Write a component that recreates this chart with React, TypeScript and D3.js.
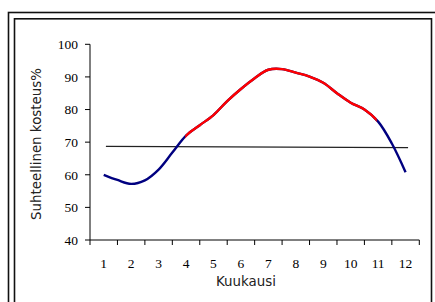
import React from "react";
import * as d3 from "d3";

// chart values
const monthLabels = ["1", "2", "3", "4", "5", "6", "7", "8", "9", "10", "11", "12"];
const monthPos = [1, 1.5, 2, 2.5, 3, 3.5, 4, 4.5, 5, 5.5, 6, 6.5, 7, 7.5, 8, 8.5, 9, 9.5, 10, 10.5, 11, 11.5, 12];
const humidity = [60.0, 58.4, 57.2, 58.3, 61.6, 66.8, 72.0, 75.2, 78.3, 82.6, 86.3, 89.6, 92.2, 92.4, 91.3, 90.1, 88.2, 85.0, 82.1, 80.0, 76.3, 69.6, 60.8];
const redRange = [3.97, 10.95]; // months drawn in red
const trendPos = [1.08, 12.09];
const trendValues = [68.7, 68.3];
const yTicks = [40, 50, 60, 70, 80, 90, 100];

const W = 435;
const H = 302;
const left = 90;
const right = 419.3;
const top = 44.3;
const bottom = 240;

export default function App() {
  const x = d3.scaleLinear().domain([0.5, 12.5]).range([left, right]);
  const xBand = d3.scaleBand().domain(monthLabels).range([left, right]).padding(0);
  const y = d3.scaleLinear().domain([40, 100]).range([bottom, top]);

  const pts: [number, number][] = monthPos.map((m, i) => [m, humidity[i]]);
  const line = d3
    .line<[number, number]>()
    .x((d) => x(d[0]))
    .y((d) => y(d[1]))
    .curve(d3.curveCatmullRom.alpha(0.5));
  const path = line(pts) || "";

  const trend = d3
    .line<number>()
    .x((d) => x(d))
    .y((d, i) => y(trendValues[i]));

  const boundaries = [left, ...monthLabels.map((m) => (xBand(m) || 0) + xBand.bandwidth())];

  const serif = "'Liberation Serif', 'Times New Roman', serif";
  const sans = "'DejaVu Sans', Verdana, sans-serif";

  return (
    <svg
      width={W}
      height={H}
      style={{ position: "absolute", left: 0, top: 0, background: "#fff" }}
    >
      <defs>
        <clipPath id="redClip">
          <rect x={x(redRange[0])} y={0} width={x(redRange[1]) - x(redRange[0])} height={H} />
        </clipPath>
      </defs>

      {/* double frame */}
      <rect x={8.5} y={12.5} width={428} height={300} fill="none" stroke="#111" strokeWidth={1.6} />
      <rect x={14.5} y={18.8} width={417} height={300} fill="none" stroke="#111" strokeWidth={1.6} />

      {/* y axis */}
      <line x1={left} x2={left} y1={top} y2={bottom} stroke="#000" />
      {yTicks.map((t) => (
        <g key={t}>
          <line x1={left - 5} x2={left} y1={y(t)} y2={y(t)} stroke="#000" />
          <text
            x={left - 12}
            y={y(t) + 4.8}
            textAnchor="end"
            fontFamily={serif}
            fontSize={13.5}
            fill="#000"
          >
            {t}
          </text>
        </g>
      ))}

      {/* x axis */}
      <line x1={left} x2={right} y1={bottom} y2={bottom} stroke="#000" />
      {boundaries.map((b, i) => (
        <line key={i} x1={b} x2={b} y1={bottom} y2={bottom + 5} stroke="#000" />
      ))}
      {monthLabels.map((m) => (
        <text
          key={m}
          x={(xBand(m) || 0) + xBand.bandwidth() / 2}
          y={268.3}
          textAnchor="middle"
          fontFamily={serif}
          fontSize={13.5}
          fill="#000"
        >
          {m}
        </text>
      ))}

      {/* axis titles */}
      <text x={246} y={285.7} textAnchor="middle" fontFamily={sans} fontSize={13.4} fill="#222">
        Kuukausi
      </text>
      <text
        transform={`translate(41,144) rotate(-90)`}
        textAnchor="middle"
        fontFamily={sans}
        fontSize={13.4}
        fill="#222"
      >
        Suhteellinen kosteus%
      </text>

      {/* trend line */}
      <path d={trend(trendPos) || ""} fill="none" stroke="#222" strokeWidth={1.2} />

      {/* humidity curve */}
      <path d={path} fill="none" stroke="#000080" strokeWidth={2.4} strokeLinejoin="round" />
      <path
        d={path}
        fill="none"
        stroke="#ff0000"
        strokeWidth={2.4}
        strokeLinejoin="round"
        clipPath="url(#redClip)"
      />
    </svg>
  );
}
